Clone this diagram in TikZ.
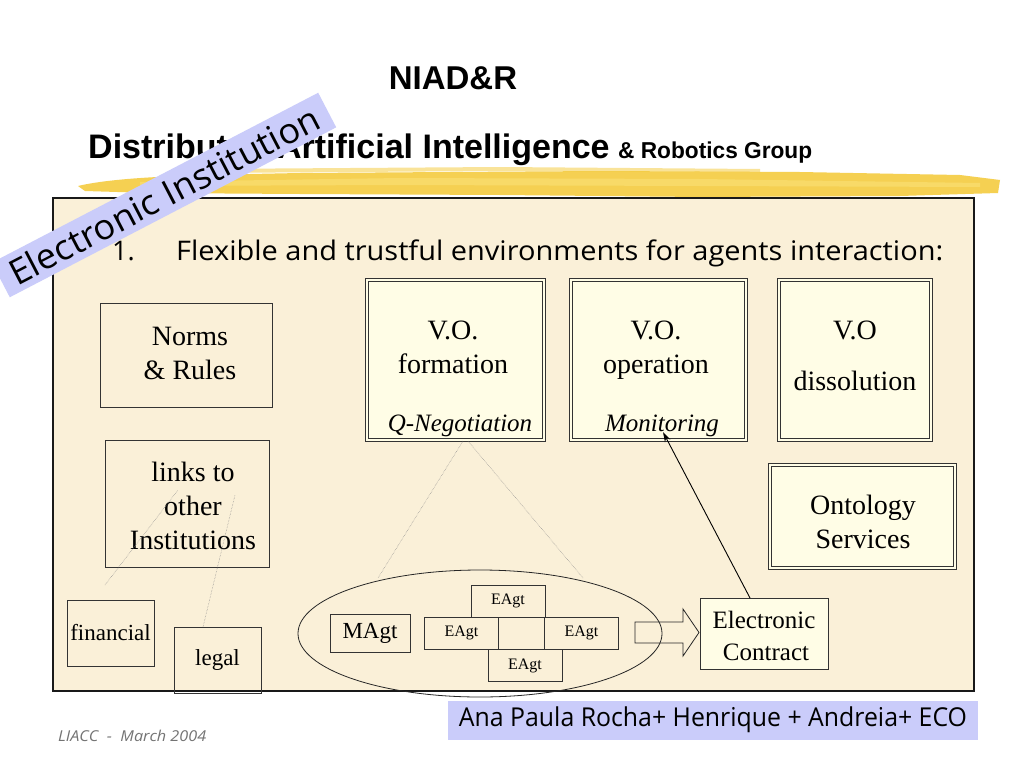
\documentclass[tikz,border=0pt]{standalone}
\usepackage{fontspec}
\usepackage{graphicx}
\setmainfont{Liberation Serif}
\newfontfamily\arialf{Liberation Sans}
\newfontfamily\comicf{Open Sans}
\usetikzlibrary{arrows.meta,shapes.geometric}
\definecolor{parch}{RGB}{250,240,216}
\definecolor{boxy}{RGB}{255,253,230}
\definecolor{lav}{RGB}{202,204,250}
\definecolor{hl}{RGB}{244,200,52}
\definecolor{hlb}{RGB}{250,226,120}
\begin{document}
\begin{tikzpicture}[x=1pt,y=-1pt,
  plainbox/.style={draw=black!80, line width=0.8pt, inner sep=0pt, align=center,
    font=\fontsize{28}{34}\selectfont},
  dblbox/.style={draw=black!80, line width=0.7pt, double=boxy, double distance=2.4pt,
    fill=boxy, inner sep=0pt},
  agt/.style={draw=black!80, line width=0.8pt, inner sep=0pt, minimum width=74pt,
    minimum height=32pt, font=\fontsize{16}{18}\selectfont},
  lbl/.style={inner sep=0pt, anchor=base, font=\fontsize{28}{34}\selectfont},
  ital/.style={inner sep=0pt, anchor=base, font=\fontsize{25}{28}\selectfont\itshape},
  dotline/.style={draw=black!45, line width=0.5pt, densely dotted},
  ]
% canvas
\fill[white] (0,0) rectangle (1024,768);
\useasboundingbox (0,0) rectangle (1024,768);

% highlighter stroke
\fill[hl, opacity=0.85] (78,186) .. controls (120,176) and (200,175) .. (300,173)
  -- (600,171) -- (800,172) -- (960,175) -- (1000,180) -- (998,193) -- (900,196)
  -- (700,197) -- (500,195) -- (300,194) -- (150,193) -- (85,191) -- cycle;
\fill[hlb, opacity=0.6] (140,182) -- (400,178) -- (700,179) -- (980,183) -- (980,187)
  -- (700,186) -- (400,185) -- (140,186) -- cycle;
\fill[hl, opacity=0.5] (200,169) -- (500,167) -- (760,169) -- (760,172) -- (500,171) -- (200,173) -- cycle;

% title
\node[anchor=base, inner sep=0pt, font=\arialf\bfseries\fontsize{33}{36}\selectfont] (title) at (453,89) {NIAD\&R};
\node[anchor=base west, inner sep=0pt, font=\arialf\bfseries\fontsize{34}{38}\selectfont] (dai) at (88,158) {Distributed Artificial Intelligence};
\node[anchor=base west, inner sep=0pt, font=\arialf\bfseries\fontsize{23}{26}\selectfont] (rob) at (618,158) {\resizebox{194pt}{\height}{\& Robotics Group}};

% main panel
\draw[fill=parch, draw=black!90, line width=2.2pt] (53,198) rectangle (974,691);

\node[anchor=base west, inner sep=0pt, font=\comicf\fontsize{27}{30}\selectfont] (num) at (112,260) {1.};
\node[anchor=base west, inner sep=0pt, font=\comicf\fontsize{27}{30}\selectfont] (flex) at (176,260)
  {\resizebox{767pt}{\height}{Flexible and trustful environments for agents interaction:}};

% left column
\node[draw=black!80, line width=0.8pt, minimum width=172pt, minimum height=104pt] (norms) at (186,355) {};
\node[lbl] (normsA) at (190,345) {Norms};
\node[lbl] (normsB) at (190,379) {\& Rules};
\node[draw=black!80, line width=0.8pt, minimum width=164pt, minimum height=127pt] (links) at (187,503.5) {};
\node[lbl] (linksA) at (193,481) {links to};
\node[lbl] (linksB) at (193,515) {other};
\node[lbl] (linksC) at (193,549) {Institutions};
\node[plainbox, minimum width=87pt, minimum height=66pt, font=\fontsize{23}{26}\selectfont] (fin) at (110.5,633) {financial};
\node[plainbox, minimum width=87pt, minimum height=66pt, font=\fontsize{23}{26}\selectfont] (legal) at (217.5,660) {legal};
\coordinate (finA) at (105,585);
\coordinate (finB) at (178,490);
\coordinate (legA) at (203,627);
\coordinate (legB) at (235,495);
\draw[dotline] (finA) -- (finB);
\draw[dotline] (legA) -- (legB);

% V.O. boxes
\node[dblbox, minimum width=177pt, minimum height=160pt] (vof) at (455.5,360) {};
\node[dblbox, minimum width=175pt, minimum height=160pt] (voo) at (658.5,360) {};
\node[dblbox, minimum width=152pt, minimum height=160pt] (vod) at (855,360) {};
\node[lbl] (vofA) at (453,339) {V.O.};
\node[lbl] (vofB) at (453,373) {formation};
\node[ital] (qneg) at (460,431) {Q-Negotiation};
\node[lbl] (vooA) at (656,339) {V.O.};
\node[lbl] (vooB) at (656,373) {operation};
\node[ital] (mon) at (662,431) {Monitoring};
\node[lbl] (vodA) at (855,339) {V.O};
\node[lbl] (vodB) at (855,390) {dissolution};

% ontology
\node[dblbox, minimum width=185pt, minimum height=103pt] (onto) at (862.5,516.5) {};
\node[lbl] (ontoA) at (863,514) {Ontology};
\node[lbl] (ontoB) at (863,548) {Services};

% agent group
\node[draw=black!85, line width=0.8pt, ellipse, minimum width=364pt, minimum height=127pt, inner sep=0pt] (group) at (480,633.5) {};
\node[plainbox, minimum width=80pt, minimum height=38pt, font=\fontsize{23}{26}\selectfont] (magt) at (370,633) {MAgt};
\node[agt] (e1) at (508,601) {EAgt};
\node[agt] (e2) at (461.5,633) {EAgt};
\node[agt] (e3) at (581.5,633) {EAgt};
\node[agt] (e4) at (525,665.5) {EAgt};

% dotted lines from Q-Negotiation
\coordinate (qA) at (463,441);
\coordinate (qB) at (468,441);
\coordinate (gL) at (378,578);
\coordinate (gR) at (583,578);
\draw[dotline] (qA) -- (gL);
\draw[dotline] (qB) -- (gR);

% electronic contract
\node[draw=black!80, line width=0.8pt, fill=boxy, minimum width=128pt, minimum height=71pt] (ec) at (764,633.5) {};
\node[lbl, font=\fontsize{25}{30}\selectfont] (ecA) at (764,628) {Electronic};
\node[lbl, font=\fontsize{25}{30}\selectfont] (ecB) at (766,660) {Contract};

% block arrow
\draw[black!85, line width=0.8pt] (635,622) -- (683,622) -- (683,609) -- (699,632.5)
  -- (683,656) -- (683,643) -- (635,643) -- cycle;

% arrow to monitoring
\coordinate (ecTop) at (750,598);
\coordinate (monTip) at (663,432);
\draw[black, line width=0.9pt, -{Stealth[length=10pt,width=6pt]}] (ecTop) -- (monTip);

% rotated label
\node[fill=lav, rotate=27.5, minimum width=368pt, minimum height=39pt, inner sep=0pt,
  font=\comicf\fontsize{35}{36}\selectfont] (band) at (164,195)
  {\resizebox{345pt}{\height}{Electronic Institution}};

% footer
\node[anchor=base west, inner sep=0pt, text=black!55, font=\comicf\itshape\fontsize{15}{17}\selectfont] (liacc) at (58,741)
  {\resizebox{148pt}{\height}{LIACC \ - \ March 2004}};
\node[fill=lav, minimum width=530pt, minimum height=39pt, inner sep=0pt] (authors) at (713,720.5) {};
\node[inner sep=0pt, font=\comicf\fontsize{26}{28}\selectfont] (authT) at (713,720)
  {\resizebox{508pt}{\height}{Ana Paula Rocha+ Henrique + Andreia+ ECO}};
\end{tikzpicture}
\end{document}
